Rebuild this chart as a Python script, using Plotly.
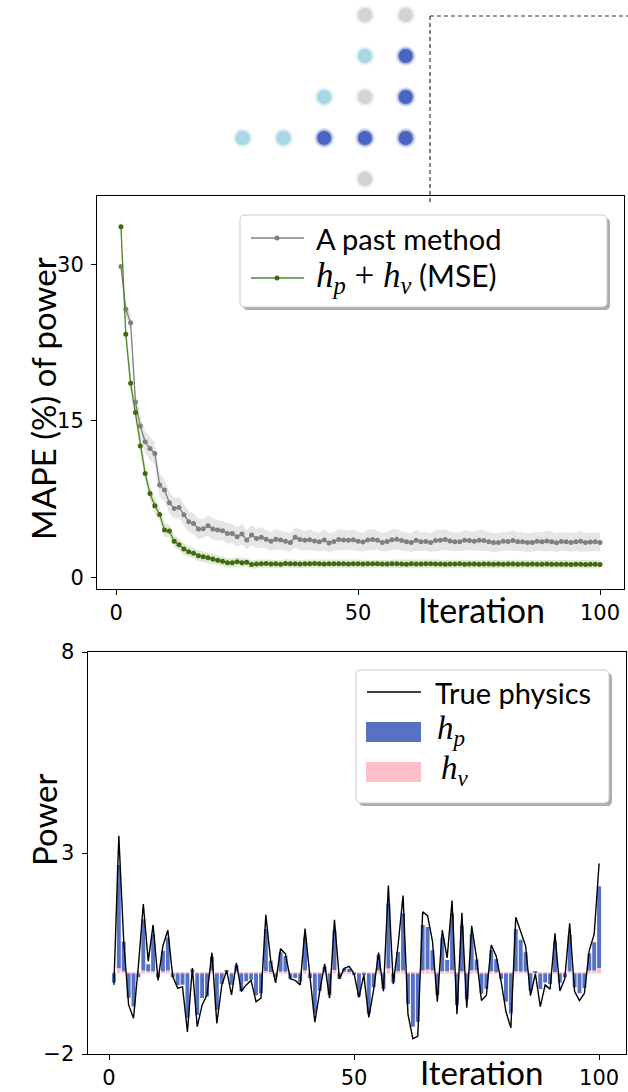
import plotly.graph_objects as go

# ---------------- data ----------------
ITER = list(range(1, 101))

PAST_MEAN = [
    29.8, 25.7, 24.4, 16.8, 14.5, 13.0, 12.35, 11.87, 8.84, 8.36,
    7.15, 6.61, 6.70, 6.00, 5.33, 5.17, 4.63, 4.66, 4.95, 4.63,
    4.53, 4.47, 4.21, 4.21, 3.89, 4.15, 3.57, 4.05, 3.73, 3.83,
    3.64, 3.45, 3.64, 3.57, 3.45, 3.35, 3.83, 3.62, 3.55, 3.60,
    3.48, 3.40, 3.57, 3.30, 3.44, 3.62, 3.58, 3.55, 3.60, 3.45,
    3.38, 3.58, 3.62, 3.55, 3.35, 3.44, 3.60, 3.64, 3.52, 3.40,
    3.33, 3.55, 3.42, 3.44, 3.33, 3.52, 3.55, 3.62, 3.48, 3.40,
    3.42, 3.55, 3.52, 3.45, 3.55, 3.52, 3.42, 3.33, 3.35, 3.45,
    3.44, 3.52, 3.40, 3.42, 3.33, 3.35, 3.45, 3.40, 3.48, 3.42,
    3.32, 3.44, 3.42, 3.35, 3.42, 3.45, 3.35, 3.38, 3.42, 3.35,
]
PAST_SPREAD = [
    0.4, 0.6, 0.8, 0.9, 1.0, 1.0, 1.1, 1.1, 1.1, 1.1,
    1.0, 1.0, 1.0, 1.0, 1.0, 1.0, 1.0, 0.9, 1.0, 1.0,
    1.0, 0.9, 1.0, 0.9, 0.9, 1.0, 0.9, 1.0, 0.9, 1.0,
    0.9, 0.9, 1.0, 0.9, 0.9, 0.9, 1.0, 1.0, 0.9, 1.0,
    0.9, 0.9, 1.0, 0.9, 0.9, 1.0, 1.0, 0.9, 1.0, 0.9,
    0.9, 1.0, 1.0, 0.9, 0.9, 0.9, 1.0, 1.0, 0.9, 0.9,
    0.9, 1.0, 0.9, 0.9, 0.9, 1.0, 1.0, 1.0, 0.9, 0.9,
    0.9, 1.0, 0.9, 0.9, 1.0, 1.0, 0.9, 0.9, 0.9, 0.9,
    0.9, 1.0, 0.9, 0.9, 0.9, 0.9, 0.9, 0.9, 1.0, 0.9,
    0.9, 0.9, 0.9, 0.9, 0.9, 1.0, 0.9, 0.9, 0.9, 0.9,
]
OURS_MEAN = [
    33.6, 23.3, 18.6, 15.8, 12.6, 9.96, 8.04, 6.86, 6.03, 4.53,
    4.44, 3.45, 3.13, 2.71, 2.46, 2.30, 2.07, 1.98, 1.88, 1.76,
    1.63, 1.53, 1.40, 1.40, 1.50, 1.40, 1.45, 1.22, 1.28, 1.30,
    1.32, 1.28, 1.30, 1.26, 1.33, 1.29, 1.30, 1.27, 1.31, 1.29,
    1.32, 1.30, 1.28, 1.30, 1.31, 1.29, 1.30, 1.27, 1.30, 1.29,
    1.28, 1.30, 1.29, 1.31, 1.28, 1.27, 1.30, 1.29, 1.28, 1.26,
    1.29, 1.28, 1.27, 1.29, 1.30, 1.27, 1.28, 1.26, 1.28, 1.27,
    1.29, 1.26, 1.27, 1.28, 1.26, 1.27, 1.28, 1.26, 1.27, 1.26,
    1.27, 1.28, 1.25, 1.27, 1.26, 1.27, 1.25, 1.26, 1.27, 1.25,
    1.26, 1.25, 1.26, 1.24, 1.25, 1.26, 1.24, 1.25, 1.25, 1.24,
]
OURS_SPREAD = [
    1.3, 1.1, 0.9, 0.8, 0.75, 0.7, 0.7, 0.7, 0.65, 0.65,
    0.6, 0.6, 0.55, 0.55, 0.55, 0.5, 0.5, 0.5, 0.5, 0.5,
    0.45, 0.45, 0.45, 0.45, 0.45, 0.45, 0.4, 0.4, 0.4, 0.4,
    0.4, 0.4, 0.4, 0.4, 0.4, 0.4, 0.4, 0.4, 0.4, 0.4,
    0.4, 0.4, 0.4, 0.4, 0.4, 0.4, 0.4, 0.4, 0.4, 0.4,
    0.4, 0.4, 0.4, 0.4, 0.4, 0.4, 0.4, 0.4, 0.4, 0.4,
    0.4, 0.4, 0.4, 0.4, 0.4, 0.4, 0.4, 0.4, 0.4, 0.4,
    0.4, 0.4, 0.4, 0.4, 0.4, 0.4, 0.4, 0.4, 0.4, 0.4,
    0.4, 0.4, 0.4, 0.4, 0.4, 0.4, 0.4, 0.4, 0.4, 0.4,
    0.4, 0.4, 0.4, 0.4, 0.4, 0.4, 0.4, 0.4, 0.4, 0.4,
]

TRUE_PHYS = [
    -0.28, 3.43, 0.80, -0.78, -1.11, 0.20, 1.73, 0.31, 1.21, -0.17,
    0.69, 1.08, -0.07, -0.36, -0.33, -1.45, 0.14, -1.32, -0.78, -0.53,
    0.52, -1.24, -0.30, 0.08, -0.53, 0.27, -0.44, -0.28, -0.17, -0.70,
    -0.61, 1.46, 0.31, -0.23, 0.62, 0.49, -0.13, -0.17, -0.28, 1.12,
    -0.07, -1.21, -0.44, 0.24, -0.61, 1.34, -0.13, 0.13, 0.18, 0.00,
    -0.59, -0.03, -1.09, -0.40, 0.52, -0.44, 2.19, -0.26, 0.73, 1.94,
    -1.01, -1.62, -1.56, 1.54, 1.44, 0.81, -0.70, 1.08, 0.39, 1.82,
    -1.01, 1.51, -0.85, 1.19, 0.39, -0.67, -0.54, 0.71, 0.44, -0.19,
    -0.95, -1.35, 1.40, 1.06, 0.69, -0.55, 0.00, -0.82, -0.28, -0.39,
    1.00, -0.43, -0.13, 1.25, -0.44, -0.67, -0.49, 0.58, 0.98, 2.74,
]
H_P = [
    -0.22, 2.57, 0.73, -0.60, -0.82, -0.09, 1.27, 0.17, 0.92, -0.10,
    0.52, 0.81, -0.09, -0.29, -0.28, -1.10, 0.04, -1.03, -0.61, -0.57,
    0.34, -0.90, -0.26, 0.05, -0.28, 0.16, -0.44, -0.19, -0.15, -0.54,
    -0.49, 1.05, 0.28, -0.09, 0.48, 0.39, -0.13, -0.11, -0.21, 0.82,
    -0.11, -0.99, -0.43, 0.13, -0.53, 0.99, -0.13, 0.08, 0.08, -0.04,
    -0.57, -0.02, -0.99, -0.34, 0.39, -0.38, 1.61, -0.22, 0.48, 1.42,
    -0.76, -1.32, -1.20, 1.13, 1.06, 0.50, -0.53, 0.84, 0.28, 1.41,
    -0.78, 1.13, -0.64, 0.90, 0.27, -0.50, -0.38, 0.52, 0.32, -0.13,
    -0.70, -0.99, 1.05, 0.79, 0.48, -0.42, 0.02, -0.38, -0.22, -0.26,
    0.74, -0.23, -0.09, 0.90, -0.34, -0.49, -0.36, 0.42, 0.70, 2.03,
]
H_V = [
    0.04, 0.13, 0.06, 0.04, 0.03, 0.06, 0.08, 0.06, 0.06, 0.02,
    0.05, 0.08, 0.03, 0.03, 0.02, 0.03, 0.06, 0.04, 0.03, 0.03,
    0.08, 0.03, 0.03, 0.04, 0.03, 0.05, 0.03, 0.03, 0.03, 0.03,
    0.03, 0.06, 0.04, 0.03, 0.05, 0.05, 0.03, 0.03, 0.03, 0.08,
    0.03, 0.03, 0.03, 0.04, 0.03, 0.09, 0.03, 0.05, 0.04, 0.04,
    0.03, 0.06, 0.03, 0.03, 0.08, 0.03, 0.13, 0.03, 0.06, 0.08,
    0.03, 0.04, 0.04, 0.08, 0.10, 0.08, 0.03, 0.06, 0.06, 0.09,
    0.03, 0.06, 0.03, 0.08, 0.08, 0.03, 0.03, 0.06, 0.04, 0.03,
    0.03, 0.03, 0.06, 0.05, 0.05, 0.03, 0.03, 0.03, 0.03, 0.03,
    0.04, 0.03, 0.03, 0.06, 0.03, 0.03, 0.03, 0.08, 0.08, 0.14,
]

# sensor grid sketch (column, row, state)
NODE_COL = [3, 4, 3, 4, 2, 3, 4, 0, 1, 2, 3, 4, 3]
NODE_ROW = [0, 0, 1, 1, 2, 2, 2, 3, 3, 3, 3, 3, 4]
NODE_STATE = ["idle", "idle", "light", "dark", "light", "idle", "dark",
              "light", "light", "dark", "dark", "dark", "idle"]

TOP_YTICKS = [0, 15, 30]
BOT_YTICKS = [-2, 3, 8]
XTICKS = [0, 50, 100]

# ---------------- styling ----------------
W, H = 628, 1092
GRAY = "#808080"
GREEN_LINE = "#55862a"
GREEN_MARK = "#3f6a12"
BAR_BLUE = "#5572c4"
BAR_PINK = "#ffc0cb"
STATE_COLOR = {"idle": "#d3d3d3", "light": "#a9d7e3", "dark": "#4a64c2"}
SANS = "Lato, 'Open Sans', sans-serif"
SERIF = "'Liberation Serif', 'DejaVu Serif', serif"
TICKFONT = dict(family="DejaVu Sans", size=21, color="black")


def px_x(p):
    return p / W


def px_y(p):
    return 1 - p / H


fig = go.Figure()

# ---- top panel: convergence curves with spread bands ----
for mean, spread, band in [(PAST_MEAN, PAST_SPREAD, "rgba(128,128,128,0.2)"),
                           (OURS_MEAN, OURS_SPREAD, "rgba(107,142,35,0.2)")]:
    upper = [m + s for m, s in zip(mean, spread)]
    lower = [m - s for m, s in zip(mean, spread)]
    fig.add_trace(go.Scatter(
        x=ITER + ITER[::-1], y=upper + lower[::-1],
        fill="toself", fillcolor=band, line=dict(width=0),
        mode="lines", hoverinfo="skip", showlegend=False,
        xaxis="x", yaxis="y"))

fig.add_trace(go.Scatter(
    x=ITER, y=PAST_MEAN, mode="lines+markers", name="A past method",
    line=dict(color=GRAY, width=1.3), marker=dict(color=GRAY, size=5),
    showlegend=False, xaxis="x", yaxis="y"))
fig.add_trace(go.Scatter(
    x=ITER, y=OURS_MEAN, mode="lines+markers", name="h_p + h_v (MSE)",
    line=dict(color=GREEN_LINE, width=1.3), marker=dict(color=GREEN_MARK, size=5),
    showlegend=False, xaxis="x", yaxis="y"))

# ---- bottom panel: decomposition bars and true curve ----
fig.add_trace(go.Bar(
    x=ITER, y=H_V, width=0.8, marker=dict(color=BAR_PINK, line=dict(width=0)),
    name="h_v", showlegend=False, xaxis="x2", yaxis="y2"))
fig.add_trace(go.Bar(
    x=ITER, y=H_P, width=0.8, marker=dict(color=BAR_BLUE, line=dict(width=0)),
    name="h_p", showlegend=False, xaxis="x2", yaxis="y2"))
fig.add_trace(go.Scatter(
    x=ITER, y=TRUE_PHYS, mode="lines", line=dict(color="black", width=1.4),
    name="True physics", showlegend=False, xaxis="x2", yaxis="y2"))

# ---- sensor grid sketch on a pixel-space overlay ----
GRID_X0, GRID_Y0, GRID_STEP_X, GRID_STEP_Y = 242.7, 15.0, 40.75, 41.0
node_x = [GRID_X0 + c * GRID_STEP_X for c in NODE_COL]
node_y = [GRID_Y0 + r * GRID_STEP_Y for r in NODE_ROW]
node_c = [STATE_COLOR[s] for s in NODE_STATE]
for size, op in [(20, 0.18), (17, 0.35), (14, 1.0)]:
    fig.add_trace(go.Scatter(
        x=node_x, y=node_y, mode="markers",
        marker=dict(color=node_c, size=size, opacity=op, line=dict(width=0)),
        hoverinfo="skip", showlegend=False, xaxis="x3", yaxis="y3"))


def rounded_rect(x0, y0, x1, y1, r):
    return (f"M {x0 + r},{y0} L {x1 - r},{y0} Q {x1},{y0} {x1},{y0 + r} "
            f"L {x1},{y1 - r} Q {x1},{y1} {x1 - r},{y1} L {x0 + r},{y1} "
            f"Q {x0},{y1} {x0},{y1 - r} L {x0},{y0 + r} Q {x0},{y0} {x0 + r},{y0} Z")


shapes = []
annotations = []

# dashed connector from the sketch to the top panel
for (xa, ya, xb, yb) in [(430, 16, 430, 205), (430, 16, 628, 16)]:
    shapes.append(dict(type="line", xref="x3", yref="y3", x0=xa, y0=ya, x1=xb, y1=yb,
                       line=dict(color="#333333", width=1.2, dash="4px,3px"), layer="above"))


def legend_box(x0, y0, x1, y1):
    shapes.append(dict(type="path", xref="x3", yref="y3",
                       path=rounded_rect(x0 + 3, y0 + 3, x1 + 3, y1 + 3, 5),
                       fillcolor="rgba(0,0,0,0.32)", line=dict(width=0), layer="above"))
    shapes.append(dict(type="path", xref="x3", yref="y3",
                       path=rounded_rect(x0, y0, x1, y1, 5),
                       fillcolor="white", line=dict(color="#cccccc", width=1), layer="above"))


def legend_text(x, y, text, size=29, family=SANS):
    annotations.append(dict(xref="x3", yref="y3", x=x, y=y, text=text, showarrow=False,
                            xanchor="left", yanchor="middle",
                            font=dict(family=family, size=size, color="black")))


def math_sym(sub, px):
    return (f'<span style="font-family:{SERIF};font-size:{px}px">'
            f'<i>h</i><sub><i>{sub}</i></sub></span>')


# top legend
legend_box(240, 215, 607, 307)
for yy, lc, mc in [(238, GRAY, GRAY), (278, GREEN_LINE, GREEN_MARK)]:
    shapes.append(dict(type="line", xref="x3", yref="y3", x0=251, y0=yy, x1=304, y1=yy,
                       line=dict(color=lc, width=1.3), layer="above"))
    shapes.append(dict(type="circle", xref="x3", yref="y3", x0=274.5, y0=yy - 2.5,
                       x1=279.5, y1=yy + 2.5, fillcolor=mc, line=dict(width=0), layer="above"))
legend_text(314, 238, "A past method")
legend_text(314, 277,
            f'{math_sym("p", 35)}<span style="font-family:{SERIF};font-size:35px"> + </span>'
            f'{math_sym("v", 35)} (MSE)', size=30)

# bottom legend
legend_box(356, 670, 609, 803)
shapes.append(dict(type="line", xref="x3", yref="y3", x0=367, y0=692, x1=421, y1=692,
                   line=dict(color="black", width=1.3), layer="above"))
shapes.append(dict(type="rect", xref="x3", yref="y3", x0=366, y0=722, x1=421, y1=742,
                   fillcolor=BAR_BLUE, line=dict(width=0), layer="above"))
shapes.append(dict(type="rect", xref="x3", yref="y3", x0=366, y0=762, x1=421, y1=782,
                   fillcolor=BAR_PINK, line=dict(width=0), layer="above"))
legend_text(433, 692, "True physics")
legend_text(435, 730, math_sym("p", 33), size=30)
legend_text(439, 770, math_sym("v", 33), size=30)

# axis titles
annotations += [
    dict(xref="paper", yref="paper", x=px_x(43), y=px_y(399), text="MAPE (%) of power",
         textangle=-90, showarrow=False, xanchor="center", yanchor="middle",
         font=dict(family=SANS, size=33, color="black")),
    dict(xref="paper", yref="paper", x=px_x(44), y=px_y(820), text="Power",
         textangle=-90, showarrow=False, xanchor="center", yanchor="middle",
         font=dict(family=SANS, size=33, color="black")),
    dict(xref="paper", yref="paper", x=px_x(481), y=px_y(609), text="Iteration",
         showarrow=False, xanchor="center", yanchor="middle",
         font=dict(family=SANS, size=34, color="black")),
    dict(xref="paper", yref="paper", x=px_x(481), y=px_y(1072), text="Iteration",
         showarrow=False, xanchor="center", yanchor="middle",
         font=dict(family=SANS, size=33, color="black")),
]

axis_common = dict(showline=True, mirror=True, linecolor="black", linewidth=1,
                   ticks="outside", ticklen=5, tickwidth=1, tickcolor="black",
                   showgrid=False, zeroline=False, tickfont=TICKFONT, fixedrange=True,
                   automargin=False)

fig.update_layout(
    width=W, height=H, autosize=False,
    margin=dict(l=0, r=0, t=0, b=0, pad=0, autoexpand=False),
    paper_bgcolor="white", plot_bgcolor="rgba(0,0,0,0)",
    barmode="relative", showlegend=False,
    xaxis=dict(domain=[px_x(97), px_x(624)], range=[-3.95, 104.95], anchor="y",
               tickvals=XTICKS, **axis_common),
    yaxis=dict(domain=[px_y(589), px_y(196)], range=[-1.12, 36.56], anchor="x",
               tickvals=TOP_YTICKS, ticklabelstandoff=3, **axis_common),
    xaxis2=dict(domain=[px_x(87.5), px_x(625.5)], range=[-4.39, 105.39], anchor="y2",
                tickvals=XTICKS, **axis_common),
    yaxis2=dict(domain=[px_y(1054), px_y(652)], range=[-2, 8], anchor="x2",
                tickvals=BOT_YTICKS, ticklabelstandoff=3, **axis_common),
    xaxis3=dict(domain=[0, 1], range=[0, W], visible=False, fixedrange=True,
                anchor="y3", automargin=False),
    yaxis3=dict(domain=[0, 1], range=[H, 0], visible=False, fixedrange=True,
                anchor="x3", automargin=False),
    shapes=shapes, annotations=annotations,
)

fig.write_html("out.html")
